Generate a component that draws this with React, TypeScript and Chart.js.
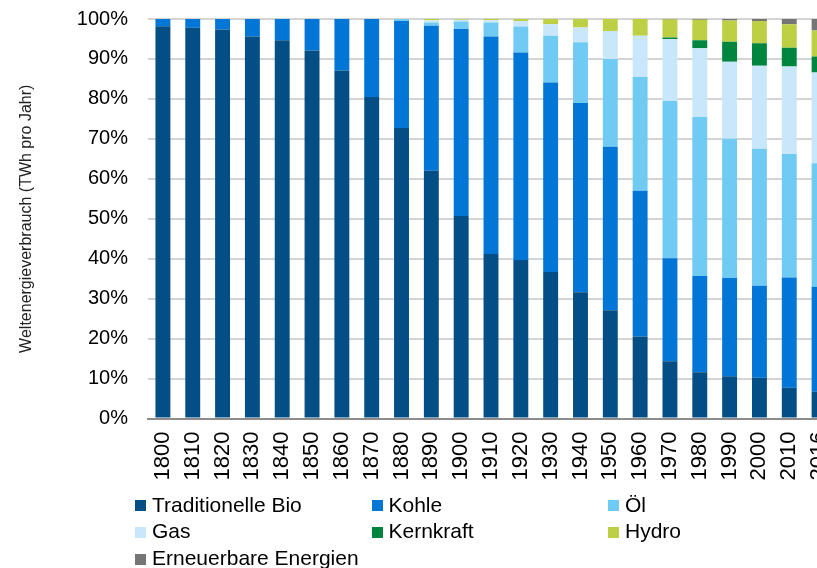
import React, { useEffect, useRef } from "react";
import { Chart, registerables } from "chart.js";

Chart.register(...registerables);

const years = ["1800","1810","1820","1830","1840","1850","1860","1870","1880","1890","1900","1910","1920","1930","1940","1950","1960","1970","1980","1990","2000","2010","2016"];

const traditionelleBio = [98.2, 97.8, 97.4, 95.6, 94.7, 92.1, 87.1, 80.5, 72.7, 62.0, 50.7, 41.2, 39.7, 36.7, 31.6, 27.1, 20.5, 14.3, 11.6, 10.6, 10.2, 7.7, 6.7];
const kohle = [1.8, 2.2, 2.6, 4.4, 5.3, 7.9, 12.9, 19.5, 26.8, 36.3, 46.8, 54.4, 51.9, 47.4, 47.4, 40.9, 36.5, 25.8, 24.1, 24.6, 23.0, 27.6, 26.3];
const oel = [0, 0, 0, 0, 0, 0, 0, 0, 0.5, 0.8, 1.9, 3.5, 6.5, 11.7, 15.2, 22.0, 28.5, 39.4, 39.8, 34.8, 34.3, 30.9, 30.9];
const gas = [0, 0, 0, 0, 0, 0, 0, 0, 0, 0.6, 0.4, 0.6, 1.4, 2.9, 3.7, 7.0, 10.3, 15.5, 17.2, 19.3, 20.8, 21.9, 22.7];
const kernkraft = [0, 0, 0, 0, 0, 0, 0, 0, 0, 0, 0, 0, 0, 0, 0, 0, 0, 0.4, 2.0, 5.0, 5.6, 4.7, 4.0];
const hydro = [0, 0, 0, 0, 0, 0, 0, 0, 0, 0.3, 0.2, 0.3, 0.5, 1.3, 2.1, 3.0, 4.2, 4.5, 5.1, 5.3, 5.6, 5.9, 6.5];
const erneuerbare = [0, 0, 0, 0, 0, 0, 0, 0, 0, 0, 0, 0, 0, 0, 0, 0, 0, 0.1, 0.2, 0.4, 0.5, 1.4, 3.1];

const seriesNames = ["Traditionelle Bio", "Kohle", "Öl", "Gas", "Kernkraft", "Hydro", "Erneuerbare Energien"];
const seriesData = [traditionelleBio, kohle, oel, gas, kernkraft, hydro, erneuerbare];
const seriesColors = ["#034e84", "#0276d6", "#6fcaf4", "#c9e7fa", "#00853f", "#bdd043", "#757575"];

const yTicks = [0, 10, 20, 30, 40, 50, 60, 70, 80, 90, 100];

const FONT = "'Liberation Sans', Arial, sans-serif";

// legend grid: [column, row]
const legendCells = [[0, 0], [1, 0], [2, 0], [0, 1], [1, 1], [2, 1], [0, 2]];

export default function App() {
  const canvasRef = useRef<HTMLCanvasElement | null>(null);

  useEffect(() => {
    const canvas = canvasRef.current;
    if (!canvas) return;
    const chart = new Chart(canvas, {
      type: "bar",
      data: {
        labels: years,
        datasets: seriesNames.map((name, i) => ({
          label: name,
          data: seriesData[i],
          backgroundColor: seriesColors[i],
          borderWidth: 0,
          categoryPercentage: 1,
          barPercentage: 0.5,
        })),
      },
      options: {
        animation: false,
        responsive: false,
        maintainAspectRatio: false,
        layout: { padding: { top: 19, right: 40, bottom: 79.5, left: 0 } },
        plugins: {
          legend: { display: false },
          tooltip: { enabled: false },
          title: { display: false },
        },
        scales: {
          x: {
            stacked: true,
            grid: { display: false, drawTicks: false },
            border: { display: true, color: "#8c8c8c", width: 2 },
            ticks: {
              autoSkip: false,
              minRotation: 90,
              maxRotation: 90,
              padding: 13,
              color: "#000",
              font: { family: FONT, size: 22 },
            },
            afterFit: (scale: any) => {
              scale.height = 70;
            },
          },
          y: {
            stacked: true,
            min: 0,
            max: 100,
            afterBuildTicks: (scale: any) => {
              scale.ticks = yTicks.map((v) => ({ value: v }));
            },
            grid: {
              drawTicks: false,
              color: (ctx: any) => (ctx.tick && ctx.tick.value === 0 ? "#8c8c8c" : "#d4d4d4"),
              lineWidth: 2,
            },
            border: { display: false },
            ticks: {
              padding: 20,
              color: "#000",
              font: { family: FONT, size: 20 },
              callback: (v: any) => v + "%",
            },
            title: {
              display: true,
              text: "Weltenergieverbrauch (TWh pro Jahr)",
              color: "#222",
              font: { family: FONT, size: 16 },
              padding: { top: 17, bottom: 0 },
            },
            afterFit: (scale: any) => {
              scale.width = 148;
              scale.paddingTop = 0;
              scale.paddingBottom = 0;
            },
          },
        },
      },
    });
    return () => chart.destroy();
  }, []);

  return (
    <div style={{ position: "absolute", left: 0, top: 0, width: 817, height: 568, overflow: "hidden", background: "#fff" }}>
      <canvas ref={canvasRef} width={874} height={568} style={{ position: "absolute", left: 0, top: 0, width: 874, height: 568 }} />
      {seriesNames.map((name, i) => {
        const [col, row] = legendCells[i];
        const x = 135 + col * 236.5;
        const boxTop = 500 + row * 26.8;
        return (
          <div key={name} style={{ position: "absolute", left: x, top: boxTop - 6.5, height: 21, whiteSpace: "nowrap" }}>
            <span style={{ position: "absolute", left: 0, top: 6.5, width: 11, height: 11, background: seriesColors[i] }} />
            <span style={{ position: "absolute", left: 17, top: 0, fontFamily: FONT, fontSize: 21, lineHeight: "21px", color: "#000" }}>{name}</span>
          </div>
        );
      })}
    </div>
  );
}
